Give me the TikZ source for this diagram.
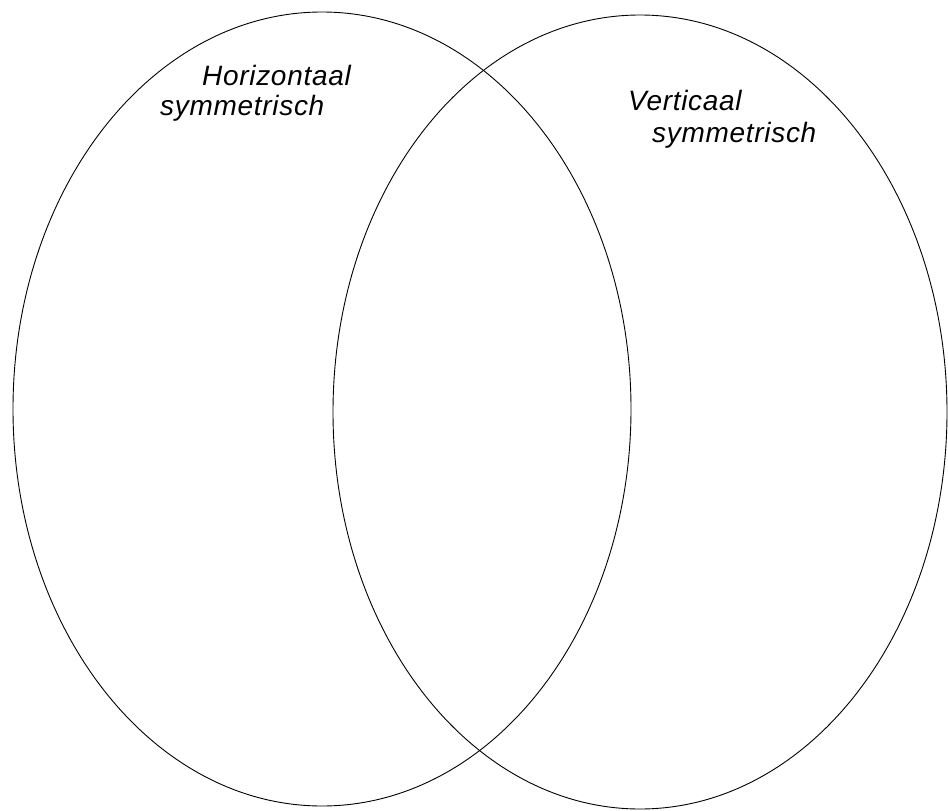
\documentclass[tikz,border=0pt]{standalone}
\usepackage{fontspec}
\setsansfont{Liberation Sans}[LetterSpace=2.5]
\usetikzlibrary{positioning}

\begin{document}
\begin{tikzpicture}[
  x=1pt, y=-1pt,
  set/.style={line width=0.9pt},
  lbl/.style={font=\sffamily\itshape\fontsize{28}{32}\selectfont, inner sep=0pt, anchor=base west}
]
\useasboundingbox (0,0) rectangle (948,811);
\draw[set] (322,409) ellipse [x radius=309, y radius=397];
\draw[set] (640,412) ellipse [x radius=307, y radius=397];
\node[lbl] (hor) at (202,85) {Horizontaal};
\node[lbl] (horsym) at (160,115) {symmetrisch};
\node[lbl] (ver) at (628,110) {Verticaal};
\node[lbl] (versym) at (652,142) {symmetrisch};
\end{tikzpicture}
\end{document}
